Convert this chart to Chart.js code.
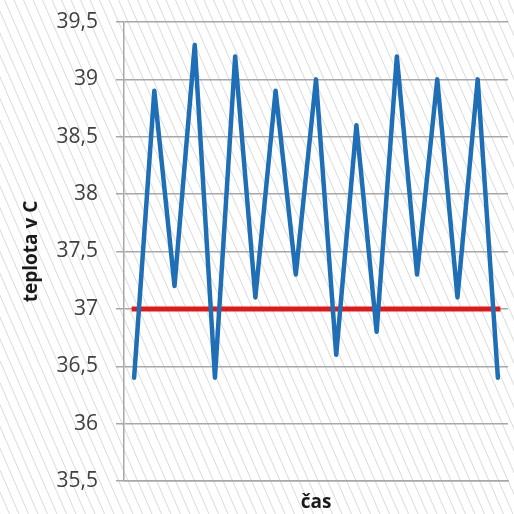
<!DOCTYPE html>
<html>
<head>
<meta charset="utf-8">
<script src="https://cdn.jsdelivr.net/npm/chart.js@4/dist/chart.umd.min.js"></script>
<style>
  html, body { margin: 0; padding: 0; background: #ffffff; }
  #wrap { width: 514px; height: 514px; }
</style>
</head>
<body>
<div id="wrap"><canvas id="c" width="514" height="514"></canvas></div>
<script>
// measurement index (time steps)
const categories = ['1','2','3','4','5','6','7','8','9','10','11','12','13','14','15','16','17','18','19'];
// measured body temperature
const temperature = [36.4, 38.9, 37.2, 39.3, 36.4, 39.2, 37.1, 38.9, 37.3, 39.0, 36.6, 38.6, 36.8, 39.2, 37.3, 39.0, 37.1, 39.0, 36.4];
// reference level
const reference = [37, 37, 37, 37, 37, 37, 37, 37, 37, 37, 37, 37, 37, 37, 37, 37, 37, 37, 37];
// y axis ticks
const yTicks = [35.5, 36, 36.5, 37, 37.5, 38, 38.5, 39, 39.5];

// light diagonal hatching behind the whole chart
const hatch = {
  id: 'hatch',
  beforeDraw(chart) {
    const ctx = chart.ctx;
    const W = chart.width, H = chart.height;
    ctx.save();
    ctx.fillStyle = '#ffffff';
    ctx.fillRect(0, 0, W, H);
    ctx.strokeStyle = '#dadada';
    ctx.lineWidth = 1;
    ctx.beginPath();
    const run = H / 2.3;
    for (let x0 = -run; x0 < W + 10; x0 += 9.5) {
      ctx.moveTo(x0, 0);
      ctx.lineTo(x0 + run, H);
    }
    ctx.stroke();
    ctx.restore();
  }
};

Chart.defaults.font.family = "'Open Sans', 'Liberation Sans', sans-serif";

new Chart(document.getElementById('c'), {
  type: 'line',
  data: {
    labels: categories,
    datasets: [
      {
        label: 'teplota',
        data: temperature,
        borderColor: '#1f6fb6',
        borderWidth: 4.5,
        borderJoinStyle: 'round',
        borderCapStyle: 'round',
        pointRadius: 0,
        tension: 0,
        order: 1
      },
      {
        label: '37',
        data: reference,
        borderColor: '#e01818',
        borderWidth: 5,
        borderCapStyle: 'square',
        pointRadius: 0,
        tension: 0,
        order: 2
      }
    ]
  },
  options: {
    responsive: false,
    animation: false,
    events: [],
    layout: { padding: { left: 0, top: 22, right: 6, bottom: 0 } },
    plugins: {
      legend: { display: false },
      tooltip: { enabled: false }
    },
    scales: {
      x: {
        offset: true,
        grid: { display: false },
        border: { display: true, color: '#a8a8a8', width: 1.5 },
        ticks: { display: false },
        title: {
          display: true,
          text: 'čas',
          color: '#1a1a1a',
          font: { size: 19, weight: 'bold' },
          padding: { top: 0, bottom: 0 }
        },
        afterFit(scale) { scale.height = 33; }
      },
      y: {
        min: 35.5,
        max: 39.5,
        afterBuildTicks(scale) {
          scale.ticks = yTicks.map(v => ({ value: v }));
        },
        grid: {
          color: '#a8a8a8',
          lineWidth: 1.5,
          drawTicks: true,
          tickLength: 8,
          tickColor: '#a8a8a8'
        },
        border: { display: true, color: '#a8a8a8', width: 1.5 },
        ticks: {
          padding: 18,
          color: '#404040',
          font: { size: 21 },
          callback: v => String(v).replace('.', ',')
        },
        title: {
          display: true,
          text: 'teplota v C',
          color: '#1a1a1a',
          font: { size: 19, weight: 'bold' },
          padding: { top: 20, bottom: 0 }
        },
        afterFit(scale) {
          scale.width = 124;
          scale.paddingTop = 12;
          scale.paddingBottom = 12;
        }
      }
    }
  },
  plugins: [hatch]
});
</script>
</body>
</html>
